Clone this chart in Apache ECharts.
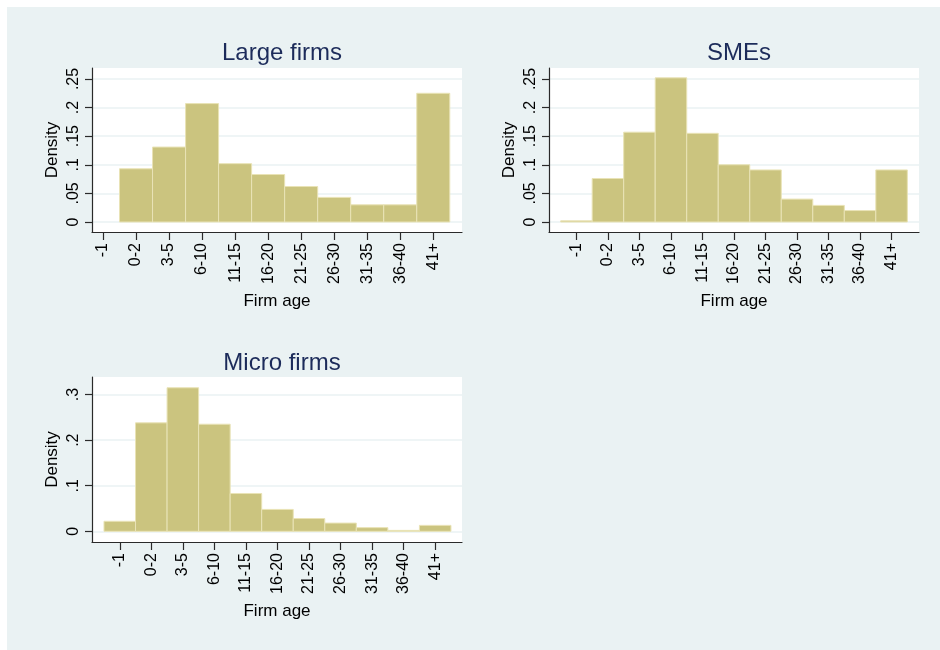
<!DOCTYPE html>
<html>
<head>
<meta charset="utf-8">
<script src="https://cdn.jsdelivr.net/npm/echarts@6/dist/echarts.min.js"></script>
<style>
html,body{margin:0;padding:0;background:#fff;}
#c{width:940px;height:650px;}
</style>
</head>
<body>
<div id="c"></div>
<script>
var categories = ['-1','0-2','3-5','6-10','11-15','16-20','21-25','26-30','31-35','36-40','41+'];
var largeFirms = [null, 0.093, 0.131, 0.207, 0.102, 0.083, 0.062, 0.043, 0.030, 0.030, 0.225];
var smes = [0.002, 0.076, 0.157, 0.252, 0.155, 0.100, 0.091, 0.040, 0.029, 0.020, 0.091];
var microFirms = [0.022, 0.238, 0.315, 0.235, 0.083, 0.048, 0.028, 0.018, 0.008, 0.002, 0.013];
var yTicksA = [0, 0.05, 0.1, 0.15, 0.2, 0.25];
var yTickLabelsA = ['0', '.05', '.1', '.15', '.2', '.25'];
var yTicksB = [0, 0.1, 0.2, 0.3];
var yTickLabelsB = ['0', '.1', '.2', '.3'];
var panelTitles = ['Large firms', 'SMEs', 'Micro firms'];

var FONT = '"Liberation Sans", Arial, sans-serif';
var BAR_FILL = '#CBC47F';
var BAR_EDGE = '#E9E3B6';
var xIdx = categories.map(function (c, i) { return i; });

function toData(arr) {
  var out = [];
  arr.forEach(function (v, i) { if (v !== null) out.push([i, v]); });
  return out;
}
function lookup(vals, labels) {
  return function (v) {
    for (var i = 0; i < vals.length; i++) if (Math.abs(vals[i] - v) < 1e-6) return labels[i];
    return '';
  };
}
function xAxisDef(g, min, max) {
  return {
    type: 'value', gridIndex: g, min: min, max: max,
    name: 'Firm age', nameLocation: 'middle', nameGap: 61,
    nameTextStyle: { fontFamily: FONT, fontSize: 17, color: '#000' },
    axisLine: { onZero: false, lineStyle: { color: '#2a2a2a', width: 1.2 } },
    axisTick: { customValues: xIdx, length: 8, lineStyle: { color: '#2a2a2a', width: 1.2 } },
    axisLabel: { customValues: xIdx, rotate: 90, margin: 11, fontFamily: FONT, fontSize: 16, color: '#000',
      formatter: function (v) { return categories[Math.round(v)]; } },
    splitLine: { show: false }
  };
}
function yAxisDef(g, min, max, ticks, labels) {
  return {
    type: 'value', gridIndex: g, min: min, max: max,
    name: 'Density', nameLocation: 'middle', nameGap: 31, nameRotate: 90,
    nameTextStyle: { fontFamily: FONT, fontSize: 17, color: '#000' },
    axisLine: { show: true, onZero: false, lineStyle: { color: '#2a2a2a', width: 1.2 } },
    axisTick: { show: true, customValues: ticks, length: 7, lineStyle: { color: '#2a2a2a', width: 1.2 } },
    axisLabel: { customValues: ticks, rotate: 90, margin: 10, fontFamily: FONT, fontSize: 16, color: '#000',
      formatter: lookup(ticks, labels) },
    splitLine: { show: true, lineStyle: { color: '#EAF2F3', width: 1.5 } }
  };
}
function barSeries(g, arr) {
  return {
    type: 'custom', xAxisIndex: g, yAxisIndex: g,
    data: toData(arr),
    renderItem: function (params, api) {
      var i = api.value(0), v = api.value(1);
      var p0 = api.coord([i - 0.5, 0]);
      var p1 = api.coord([i + 0.5, v]);
      return {
        type: 'rect',
        shape: { x: p0[0], y: p1[1], width: p1[0] - p0[0], height: p0[1] - p1[1] },
        style: { fill: BAR_FILL, stroke: BAR_EDGE, lineWidth: 1 }
      };
    }
  };
}

var chart = echarts.init(document.getElementById('c'), null, { renderer: 'canvas' });
chart.setOption({
  backgroundColor: '#ffffff',
  animation: false,
  graphic: [{ type: 'rect', z: -10, silent: true, shape: { x: 7, y: 7, width: 933, height: 643 }, style: { fill: '#EAF2F3' } }],
  title: [
    { text: panelTitles[0], left: 277, top: 36, textAlign: 'center', textStyle: { fontFamily: FONT, fontSize: 24, fontWeight: 'normal', color: '#1C2B5A' } },
    { text: panelTitles[1], left: 734, top: 36, textAlign: 'center', textStyle: { fontFamily: FONT, fontSize: 24, fontWeight: 'normal', color: '#1C2B5A' } },
    { text: panelTitles[2], left: 277, top: 346, textAlign: 'center', textStyle: { fontFamily: FONT, fontSize: 24, fontWeight: 'normal', color: '#1C2B5A' } }
  ],
  grid: [
    { left: 92, top: 68, width: 370, height: 164, show: true, backgroundColor: '#ffffff', borderWidth: 0 },
    { left: 549, top: 68, width: 370, height: 164, show: true, backgroundColor: '#ffffff', borderWidth: 0 },
    { left: 92, top: 377, width: 370, height: 165, show: true, backgroundColor: '#ffffff', borderWidth: 0 }
  ],
  xAxis: [
    xAxisDef(0, -0.333, 10.87),
    xAxisDef(1, -0.87, 10.87),
    xAxisDef(2, -0.88, 10.85)
  ],
  yAxis: [
    yAxisDef(0, -0.0175, 0.2692, yTicksA, yTickLabelsA),
    yAxisDef(1, -0.0175, 0.2692, yTicksA, yTickLabelsA),
    yAxisDef(2, -0.0235, 0.3386, yTicksB, yTickLabelsB)
  ],
  series: [
    barSeries(0, largeFirms),
    barSeries(1, smes),
    barSeries(2, microFirms)
  ]
});
</script>
</body>
</html>
